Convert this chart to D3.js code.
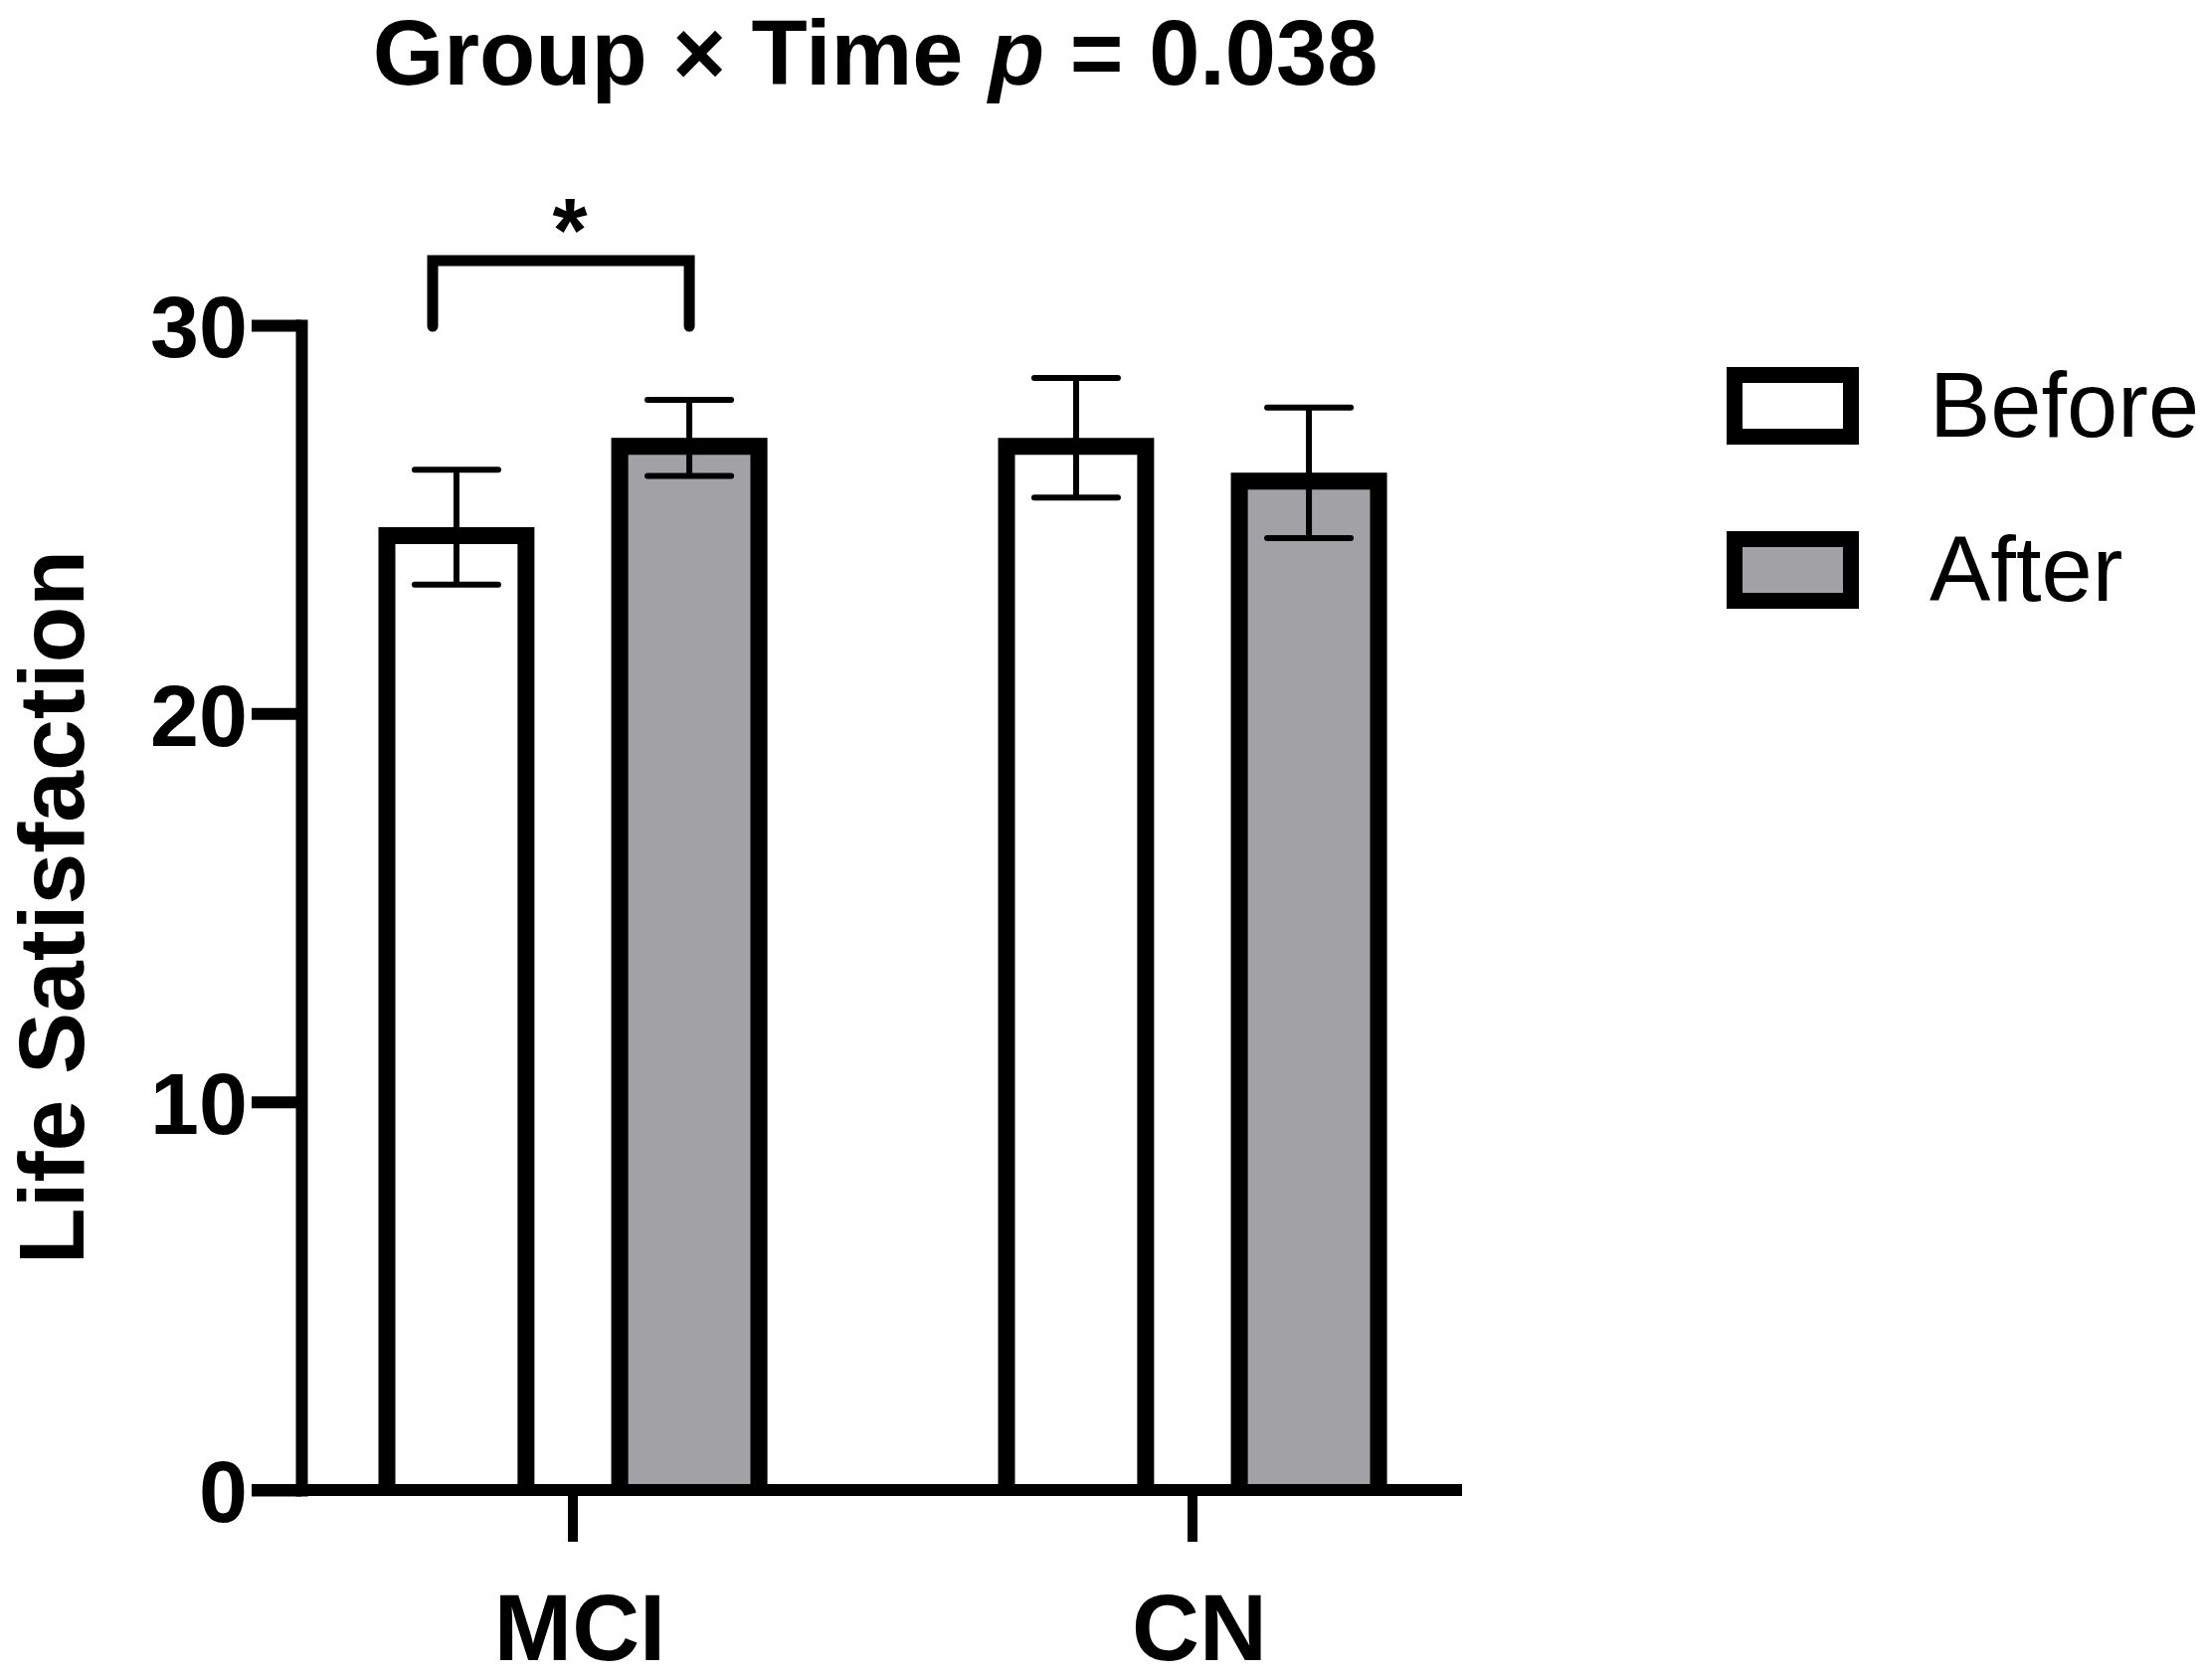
<!DOCTYPE html>
<html>
<head>
<meta charset="utf-8">
<script src="https://cdn.jsdelivr.net/npm/d3@7"></script>
<style>
  body { margin: 0; background: #fff; }
  text { font-family: "Liberation Sans", Arial, Helvetica, sans-serif; }
</style>
</head>
<body>
<script>
var groups = ["MCI", "CN"],
    times = ["Before", "After"],
    meanBefore = [24.8, 27.1],
    meanAfter = [27.1, 26.2],
    errBefore = [1.48, 1.54],
    errAfter = [0.98, 1.68],
    yTicks = [0, 10, 20, 30];

var width = 2217, height = 1689,
    yTop = 327, yZero = 1498,
    xAxisLeft = 253, xAxisRight = 1470,
    barStroke = 17,
    fills = { Before: "#ffffff", After: "#a2a1a6" };

var rows = [];
groups.forEach(function (g, i) {
  rows.push({ group: g, time: "Before", value: meanBefore[i], err: errBefore[i] });
  rows.push({ group: g, time: "After", value: meanAfter[i], err: errAfter[i] });
});

var svg = d3.select("body").append("svg")
  .attr("width", width)
  .attr("height", height);

var y = d3.scaleLinear().domain([0, 30]).range([yZero, yTop]);

var x0 = d3.scaleBand().domain(groups).range([264.5, 1510.5]).padding(0);
var x1 = d3.scaleBand().domain(times)
  .range([116, 507])
  .paddingInner(0.33)
  .paddingOuter(0);

// bars (fill + three-sided outline, bottom sits on the axis)
var bars = svg.append("g").selectAll("g")
  .data(rows)
  .join("g")
  .attr("transform", d => `translate(${x0(d.group) + x1(d.time)},0)`);

var bw = x1.bandwidth(), h = barStroke / 2;

bars.append("rect")
  .attr("x", 0)
  .attr("y", d => y(d.value))
  .attr("width", bw)
  .attr("height", d => yZero - y(d.value))
  .attr("fill", d => fills[d.time]);

bars.append("path")
  .attr("d", d => `M${h},${yZero}V${y(d.value) + h}H${bw - h}V${yZero}`)
  .attr("fill", "none")
  .attr("stroke", "#000")
  .attr("stroke-width", barStroke);

// error bars
var capW = 42;
bars.append("line")
  .attr("x1", bw / 2).attr("x2", bw / 2)
  .attr("y1", d => y(d.value + d.err))
  .attr("y2", d => y(d.value - d.err))
  .attr("stroke", "#000").attr("stroke-width", 6);

bars.selectAll(".cap")
  .data(d => [d.value + d.err, d.value - d.err])
  .join("line")
  .attr("class", "cap")
  .attr("x1", bw / 2 - capW).attr("x2", bw / 2 + capW)
  .attr("y1", v => y(v)).attr("y2", v => y(v))
  .attr("stroke", "#000").attr("stroke-width", 6)
  .attr("stroke-linecap", "round");

// y axis
var yAxis = svg.append("g")
  .attr("transform", "translate(303,0)")
  .call(d3.axisLeft(y).tickValues(yTicks).tickSize(50).tickSizeOuter(0).tickPadding(4));

yAxis.select(".domain")
  .attr("stroke-width", 12)
  .attr("stroke-linecap", "square");
yAxis.selectAll(".tick line").attr("stroke-width", 12);
yAxis.selectAll(".tick text")
  .attr("font-size", 88)
  .attr("font-weight", "bold")
  .attr("fill", "#000")
  .attr("dy", "0.36em");

// x axis
var xAxis = svg.append("g")
  .attr("transform", `translate(0,${yZero})`)
  .call(d3.axisBottom(x0).tickSize(52).tickSizeOuter(0).tickPadding(52));
xAxis.select(".domain").remove();
xAxis.append("line")
  .attr("x1", xAxisLeft).attr("x2", xAxisRight)
  .attr("stroke", "#000").attr("stroke-width", 12);
xAxis.selectAll(".tick line").attr("stroke-width", 10);
xAxis.selectAll(".tick text")
  .attr("font-size", 94)
  .attr("font-weight", "bold")
  .attr("fill", "#000")
  .attr("dx", 7);

// y label
svg.append("text")
  .attr("transform", "translate(84,912) rotate(-90)")
  .attr("text-anchor", "middle")
  .attr("font-size", 93)
  .attr("font-weight", "bold")
  .text("Life Satisfaction");

// title
var title = svg.append("text")
  .attr("x", 880).attr("y", 85)
  .attr("text-anchor", "middle")
  .attr("font-size", 92)
  .attr("font-weight", "bold");
title.append("tspan").text("Group \u00d7 Time ");
title.append("tspan").attr("font-style", "italic").text("p");
title.append("tspan").text(" = 0.038");

// significance bracket
var bx1 = 435, bx2 = x0("MCI") + x1("After") + bw / 2,
    bTop = 262, bEnd = 328;
svg.append("path")
  .attr("d", `M${bx1},${bEnd}V${bTop}H${bx2}V${bEnd}`)
  .attr("fill", "none")
  .attr("stroke", "#000")
  .attr("stroke-width", 11)
  .attr("stroke-linejoin", "miter")
  .attr("stroke-linecap", "round");
svg.append("text")
  .attr("x", 573).attr("y", 263)
  .attr("text-anchor", "middle")
  .attr("font-size", 90)
  .attr("font-weight", "bold")
  .text("*");

// legend
var legend = svg.append("g").selectAll("g")
  .data(times)
  .join("g")
  .attr("transform", (d, i) => `translate(1736,${369 + i * 165})`);
legend.append("rect")
  .attr("x", 8).attr("y", 8)
  .attr("width", 133 - 16).attr("height", 78 - 16)
  .attr("fill", d => fills[d])
  .attr("stroke", "#000")
  .attr("stroke-width", 16);
legend.append("text")
  .attr("x", 204).attr("y", 70)
  .attr("font-size", 92)
  .text(d => d);
</script>
</body>
</html>
